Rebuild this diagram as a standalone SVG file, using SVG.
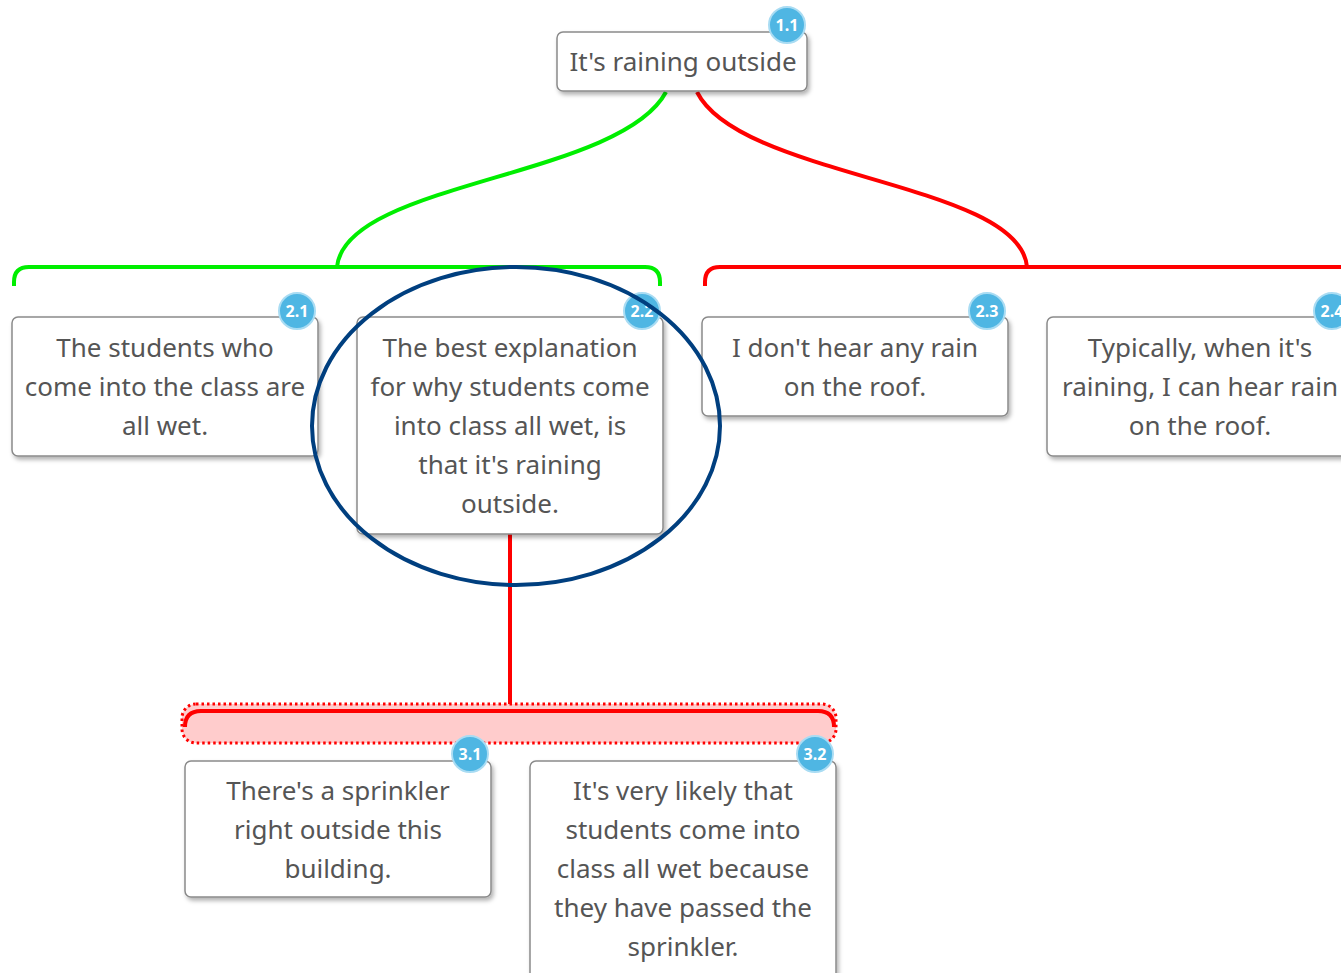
<svg xmlns="http://www.w3.org/2000/svg" width="1341" height="973" viewBox="0 0 1341 973">
<defs>
<filter id="sh" x="-10%" y="-10%" width="125%" height="130%">
<feDropShadow dx="2" dy="3" stdDeviation="2" flood-color="#000" flood-opacity="0.3"/>
</filter>
<style>
.box{fill:#fff;stroke:#8a8a8a;stroke-width:1.5;filter:url(#sh)}
.t{font-family:"Noto Sans","Open Sans",sans-serif;font-size:26px;fill:#555;text-anchor:middle}
.bc{fill:#4fb6e3;stroke:#a9dcf3;stroke-width:2}
.bt{font-family:"Noto Sans","Open Sans",sans-serif;font-size:16px;font-weight:bold;fill:#fff;text-anchor:middle}
.g{fill:none;stroke:#00ee00;stroke-width:4}
.r{fill:none;stroke:#ff0000;stroke-width:4}
</style>
</defs>
<rect width="1341" height="973" fill="#fff"/>
<g id="connectors">
<path class="g" d="M666,92 C620,178 345,182 337,267"/>
<path class="g" d="M14,286 L14,282 Q14,267 29,267 L645,267 Q660,267 660,282 L660,286"/>
<path class="r" d="M697,92 C740,178 1020,182 1027,267"/>
<path class="r" d="M705,286 L705,282 Q705,267 720,267 L1345,267"/>
<line class="r" x1="510" y1="534" x2="510" y2="711"/>
<rect x="182" y="704" width="654" height="39" rx="14" fill="#ffcccc" stroke="#ff0000" stroke-width="3" stroke-dasharray="2.5,3"/>
<path class="r" d="M185,727 Q185,711 201,711 L818,711 Q834,711 834,727"/>
</g>
<g id="n11">
<rect class="box" x="557" y="32" width="250" height="59" rx="6"/>
<text class="t" x="683" y="71">It's raining outside</text>
<circle class="bc" cx="787" cy="25" r="18"/><text class="bt" x="787" y="31">1.1</text>
</g>
<g id="n21">
<rect class="box" x="12" y="317" width="306" height="139" rx="6"/>
<text class="t" x="165" y="357">The students who</text>
<text class="t" x="165" y="396">come into the class are</text>
<text class="t" x="165" y="435">all wet.</text>
<circle class="bc" cx="297" cy="311" r="18"/><text class="bt" x="297" y="317">2.1</text>
</g>
<g id="n22">
<rect class="box" x="357" y="317" width="306" height="217" rx="6"/>
<text class="t" x="510" y="357">The best explanation</text>
<text class="t" x="510" y="396">for why students come</text>
<text class="t" x="510" y="435">into class all wet, is</text>
<text class="t" x="510" y="474">that it's raining</text>
<text class="t" x="510" y="513">outside.</text>
<circle class="bc" cx="642" cy="311" r="18"/><text class="bt" x="642" y="317">2.2</text>
</g>
<g id="n23">
<rect class="box" x="702" y="317" width="306" height="99" rx="6"/>
<text class="t" x="855" y="357">I don't hear any rain</text>
<text class="t" x="855" y="396">on the roof.</text>
<circle class="bc" cx="987" cy="311" r="18"/><text class="bt" x="987" y="317">2.3</text>
</g>
<g id="n24">
<rect class="box" x="1047" y="317" width="306" height="139" rx="6"/>
<text class="t" x="1200" y="357">Typically, when it's</text>
<text class="t" x="1200" y="396">raining, I can hear rain</text>
<text class="t" x="1200" y="435">on the roof.</text>
<circle class="bc" cx="1332" cy="311" r="18"/><text class="bt" x="1332" y="317">2.4</text>
</g>
<g id="n31">
<rect class="box" x="185" y="761" width="306" height="136" rx="6"/>
<text class="t" x="338" y="800">There's a sprinkler</text>
<text class="t" x="338" y="839">right outside this</text>
<text class="t" x="338" y="878">building.</text>
<circle class="bc" cx="470" cy="754" r="18"/><text class="bt" x="470" y="760">3.1</text>
</g>
<g id="n32">
<rect class="box" x="530" y="761" width="306" height="225" rx="6"/>
<text class="t" x="683" y="800">It's very likely that</text>
<text class="t" x="683" y="839">students come into</text>
<text class="t" x="683" y="878">class all wet because</text>
<text class="t" x="683" y="917">they have passed the</text>
<text class="t" x="683" y="956">sprinkler.</text>
<circle class="bc" cx="815" cy="754" r="18"/><text class="bt" x="815" y="760">3.2</text>
</g>
<g id="highlight">
<ellipse cx="516" cy="426" rx="204" ry="159" fill="none" stroke="#003f7f" stroke-width="4"/>
</g>
</svg>
